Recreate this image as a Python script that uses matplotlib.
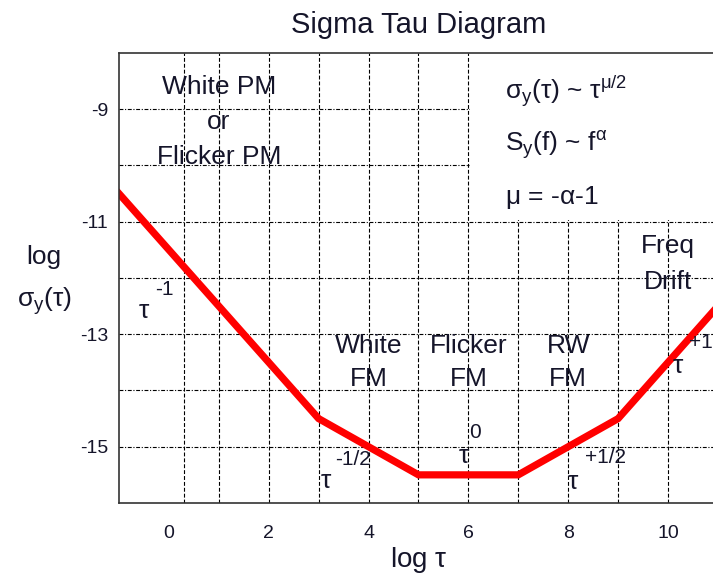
import matplotlib
matplotlib.use('Agg')
import matplotlib.pyplot as plt
from matplotlib.patches import Rectangle

plt.rcParams['font.family'] = ['Liberation Sans', 'DejaVu Sans']
plt.rcParams['mathtext.fontset'] = 'custom'
plt.rcParams['mathtext.rm'] = 'Liberation Sans'
plt.rcParams['mathtext.it'] = 'Liberation Sans'
plt.rcParams['mathtext.default'] = 'regular'
plt.rcParams['axes.unicode_minus'] = False

# Allan deviation asymptotes: knots of the piecewise power-law curve
log_tau = [-1, 3, 5, 7, 9, 11]
log_sigma = [-10.5, -14.5, -15.5, -15.5, -14.5, -12.5]

x_ticks = [0, 2, 4, 6, 8, 10]
y_ticks = [-15, -13, -11, -9]
x_grid = [0.3, 1, 2, 3, 4, 5, 6, 7, 8, 9, 10]
y_grid = [-15, -14, -13, -12, -11, -10, -9]

TXT = '#15152a'
LBL = 19

fig = plt.figure(figsize=(7.13, 5.78), dpi=100)
ax = fig.add_axes([0.1669, 0.1298, 0.840, 0.7785])
ax.set_xlim(-1, 11)
ax.set_ylim(-16, -8)

# dashed grid
for gx in x_grid:
    ax.axvline(gx, color='black', lw=0.8, ls=(0, (3.5, 1.8)), zorder=1)
for gy in y_grid:
    ax.axhline(gy, color='black', lw=0.8, ls=(0, (3.5, 1.5, 1, 1.5)), zorder=1)

# blank panel behind the power-law relations
ax.add_patch(Rectangle((6.03, -10.97), 6, 3.5, facecolor='white',
                       edgecolor='none', zorder=1.5))

ax.plot(log_tau, log_sigma, color='#ff0000', lw=5.2,
        solid_joinstyle='miter', zorder=3)

ax.set_xticks(x_ticks)
ax.set_yticks(y_ticks)
ax.tick_params(length=0, labelsize=14, labelcolor=TXT)
ax.tick_params(axis='x', pad=16)
ax.tick_params(axis='y', pad=8)
for side in ['left', 'bottom', 'top', 'right']:
    ax.spines[side].set_color('#333333')
    ax.spines[side].set_linewidth(1.2)
    ax.spines[side].set_zorder(4)

fig.text(419 / 713, 1 - 25 / 578, 'Sigma Tau Diagram', fontsize=21, color=TXT,
         ha='center', va='center')
ax.set_xlabel(r'log $\tau$', fontsize=20, color=TXT, va='center')
ax.xaxis.set_label_coords(0.5, -0.127)

# y label drawn as two stacked lines
ax.text(-2.5, -11.63, 'log', fontsize=LBL, color=TXT, ha='center', va='center', clip_on=False)
ax.text(-2.5, -12.41, r'$\sigma_y(\tau)$', fontsize=LBL, color=TXT, ha='center', va='center', clip_on=False)

# noise type regions
regions = [
    (1, [-8.61, -9.23, -9.85], ['White PM', 'or', 'Flicker PM']),
    (4, [-13.21, -13.80], ['White', 'FM']),
    (6, [-13.21, -13.80], ['Flicker', 'FM']),
    (8, [-13.21, -13.80], ['RW', 'FM']),
    (10, [-11.44, -12.08], ['Freq', 'Drift']),
]
for x, ys, lines in regions:
    for y, s in zip(ys, lines):
        ax.text(x, y, s, fontsize=LBL, color=TXT, ha='center', va='center', zorder=5)

# slope labels: tau with raised exponent
slopes = [
    ((-0.5, -12.59), (-0.1, -12.2), '-1'),
    ((3.14, -15.61), (3.68, -15.22), '-1/2'),
    ((5.9, -15.17), (6.14, -14.74), '0'),
    ((8.1, -15.63), (8.74, -15.19), '+1/2'),
    ((10.2, -13.57), (10.66, -13.14), '+1'),
]
for (tx, ty), (ex, ey), e in slopes:
    ax.text(tx, ty, '\u03c4', fontsize=LBL, color=TXT, ha='center', va='center', zorder=5)
    ax.text(ex, ey, e, fontsize=15, color=TXT, ha='center', va='center', zorder=5)

# power-law relations
rel_x = 6.74
ax.text(rel_x, -8.82, r'$\sigma_y(\tau)$ ~ $\tau^{\mu/2}$', fontsize=LBL, color=TXT,
        ha='left', va='baseline', zorder=5)
ax.text(rel_x, -9.75, r'$S_y(f)$ ~ $f^{\alpha}$', fontsize=LBL, color=TXT,
        ha='left', va='baseline', zorder=5)
ax.text(rel_x, -10.69, r'$\mu$ = -$\alpha$-1', fontsize=LBL, color=TXT,
        ha='left', va='baseline', zorder=5)

fig.savefig('out.png', dpi=100)
